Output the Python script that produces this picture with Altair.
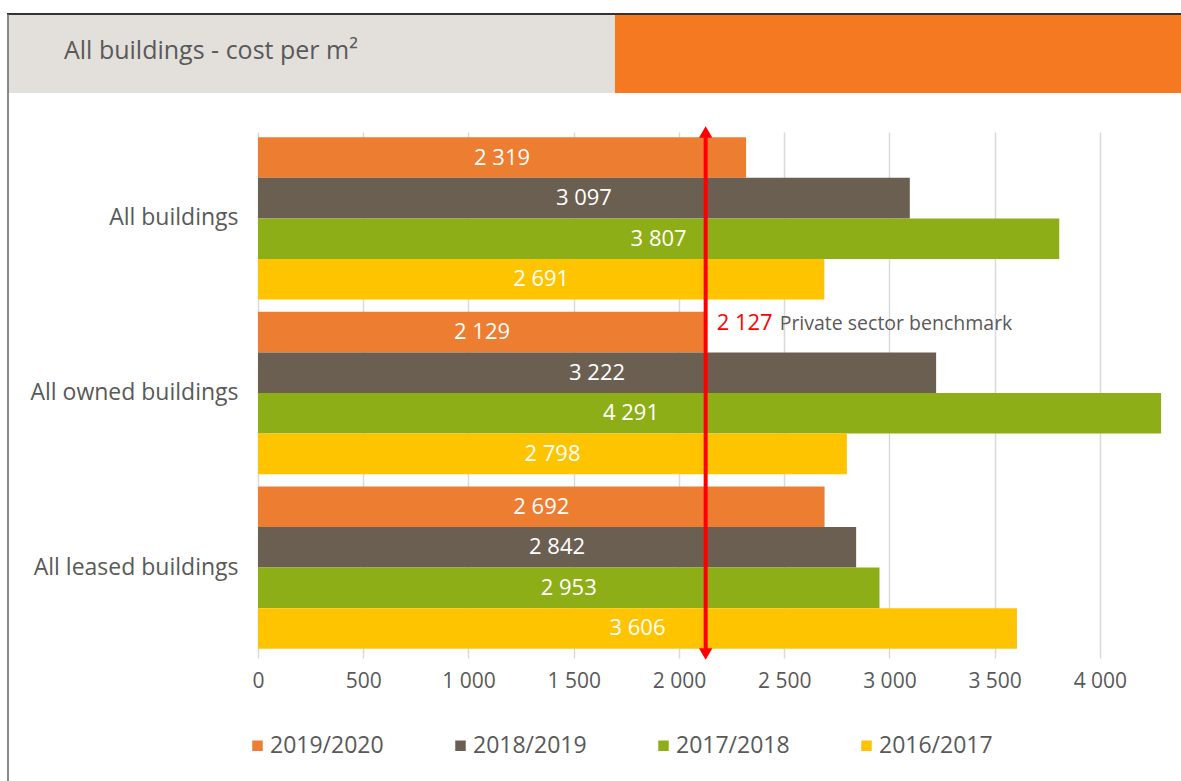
import altair as alt
import pandas as pd

# ---- data ----
categories = ["All buildings", "All owned buildings", "All leased buildings"]
series = ["2019/2020", "2018/2019", "2017/2018", "2016/2017"]
values_2019_2020 = [2319, 2129, 2692]
values_2018_2019 = [3097, 3222, 2842]
values_2017_2018 = [3807, 4291, 2953]
values_2016_2017 = [2691, 2798, 3606]
benchmark_value = 2127
benchmark_text = "Private sector benchmark"
title_text = "All buildings - cost per m\u00b2"
x_ticks = [0, 500, 1000, 1500, 2000, 2500, 3000, 3500, 4000]
# label centre override (data units) for the bar whose label sits off-centre
label_center_override = {("All owned buildings", "2017/2018"): 1772}

colors = ["#ed7d31", "#6b5f52", "#8eae17", "#ffc400"]
FONT = "Open Sans"
GREY = "#595959"


def fmt(v):
    return f"{v:,}".replace(",", " ")


rows = []
for s, vals in zip(series, [values_2019_2020, values_2018_2019, values_2017_2018, values_2016_2017]):
    for c, v in zip(categories, vals):
        rows.append({
            "category": c,
            "series": s,
            "value": v,
            "label": fmt(v),
            "label_x": label_center_override.get((c, s), v / 2),
        })
df = pd.DataFrame(rows)
bench_df = pd.DataFrame({"value": [benchmark_value], "label": [fmt(benchmark_value)], "note": [benchmark_text]})
dummy = pd.DataFrame({"d": [0]})

W, H = 905, 522
LEFT, TOP = 258, 132

y_enc = alt.Y(
    "category:N", sort=categories,
    scale=alt.Scale(paddingInner=0.07, paddingOuter=0.03),
    axis=alt.Axis(title=None, labelFontSize=23, labelColor=GREY, labelFont=FONT,
                  labelPadding=20, labelLimit=400, ticks=False, domain=False, grid=False),
)
yoff_enc = alt.YOffset("series:N", sort=series, scale=alt.Scale(paddingInner=0, paddingOuter=0))
x_enc = alt.X(
    "value:Q",
    scale=alt.Scale(domain=[0, 4300], nice=False, zero=True),
    axis=alt.Axis(values=x_ticks, title=None, grid=True, gridColor="#d9d9d9", gridWidth=1.5,
                  domain=False, tickColor="#d9d9d9", tickSize=4, tickWidth=1.5,
                  labelFontSize=21, labelColor=GREY, labelFont=FONT, labelPadding=12,
                  labelFlush=False,
                  labelExpr="replace(format(datum.value, ','), ',', ' ')"),
)

bars = alt.Chart(df).mark_bar().encode(
    y=y_enc,
    yOffset=yoff_enc,
    x=x_enc,
    color=alt.Color(
        "series:N", sort=series,
        scale=alt.Scale(domain=series, range=colors),
        legend=alt.Legend(
            title=None, orient="none", legendX=-12, legendY=602, direction="horizontal",
            symbolType="square", symbolSize=110, symbolStrokeWidth=0, symbolOpacity=1,
            labelFontSize=23, labelColor=GREY, labelFont=FONT, labelOffset=1,
            columnPadding=65, gridAlign="all",
        ),
    ),
)

bar_labels = alt.Chart(df).mark_text(color="white", fontSize=22, font=FONT,
                                     align="center", baseline="middle").encode(
    y=alt.Y("category:N", sort=categories),
    yOffset=alt.YOffset("series:N", sort=series),
    x=alt.X("label_x:Q"),
    text="label:N",
)

rule = alt.Chart(bench_df).mark_rule(color="#ff0000", strokeWidth=4).encode(
    x="value:Q", y=alt.value(4), y2=alt.value(518)
)
arrow_top = alt.Chart(bench_df).mark_point(shape="triangle-up", filled=True, size=180,
                                           color="#ff0000", opacity=1).encode(
    x="value:Q", y=alt.value(0)
)
arrow_bot = alt.Chart(bench_df).mark_point(shape="triangle-down", filled=True, size=180,
                                           color="#ff0000", opacity=1).encode(
    x="value:Q", y=alt.value(522)
)
bench_label = alt.Chart(bench_df).mark_text(color="#ff0000", fontSize=22, font=FONT,
                                            align="left", baseline="middle", dx=11).encode(
    x="value:Q", y=alt.value(191), text="label:N"
)
bench_note = alt.Chart(bench_df).mark_text(color=GREY, fontSize=19.5, font=FONT,
                                           align="left", baseline="middle", dx=74).encode(
    x="value:Q", y=alt.value(192), text="note:N"
)

# ---- header / frame decoration ----
hdr_grey = alt.Chart(dummy).mark_rect(color="#e3e0dc").encode(
    x=alt.value(8 - LEFT), x2=alt.value(615 - LEFT), y=alt.value(15 - TOP), y2=alt.value(93 - TOP)
)
hdr_orange = alt.Chart(dummy).mark_rect(color="#f47920").encode(
    x=alt.value(615 - LEFT), x2=alt.value(1181 - LEFT), y=alt.value(15 - TOP), y2=alt.value(93 - TOP)
)
hdr_text = alt.Chart(dummy).mark_text(text=title_text, align="left", baseline="middle",
                                      fontSize=25, font=FONT, color=GREY).encode(
    x=alt.value(64 - LEFT), y=alt.value(51 - TOP)
)
frame_top = alt.Chart(dummy).mark_rule(color="#333333", strokeWidth=2).encode(
    x=alt.value(7 - LEFT), x2=alt.value(1181 - LEFT), y=alt.value(14 - TOP)
)
frame_left = alt.Chart(dummy).mark_rule(color="#666666", strokeWidth=1.5).encode(
    x=alt.value(8 - LEFT), y=alt.value(14 - TOP), y2=alt.value(781 - TOP)
)

chart = alt.layer(
    hdr_grey, hdr_orange, hdr_text, frame_top, frame_left,
    bars, bar_labels, rule, arrow_top, arrow_bot, bench_label, bench_note,
).properties(
    width=W, height=H,
    autosize=alt.AutoSizeParams(type="none"),
    padding={"left": LEFT, "top": TOP, "right": 1181 - LEFT - W, "bottom": 781 - TOP - H},
    background="white",
).configure_view(stroke=None)

chart.save("out.html", embed_options={"renderer": "svg", "actions": False})
